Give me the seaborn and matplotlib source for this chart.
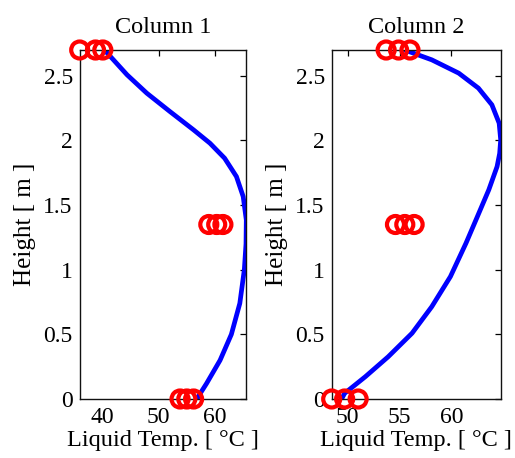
import numpy as np
import pandas as pd
import matplotlib
matplotlib.use('Agg')
import matplotlib.pyplot as plt
import seaborn as sns

# ==================== DATA ====================
# column 1: simulated profile (height [m] vs liquid temp [C])
col1_height = [0.0, 0.02, 0.12, 0.30, 0.50, 0.74, 1.0, 1.2, 1.385, 1.566, 1.721, 1.863, 1.979, 2.082, 2.224, 2.366, 2.508, 2.676, 2.70]
col1_temp = [56.8, 57.05, 58.5, 60.9, 62.9, 64.4, 65.2, 65.5, 65.55, 65.0, 63.8, 61.7, 59.1, 56.2, 52.0, 47.9, 44.4, 40.9, 40.3]
# column 1: measurements
col1_meas_height = [2.7, 2.7, 2.7, 1.35, 1.35, 1.35, 0.0, 0.0, 0.0]
col1_meas_temp = [36.0, 38.8, 40.1, 58.9, 60.3, 61.4, 53.8, 55.0, 56.2]

# column 2: simulated profile
col2_height = [0.0, 0.044, 0.173, 0.327, 0.509, 0.714, 0.947, 1.205, 1.411, 1.618, 1.798, 1.9, 2.005, 2.134, 2.276, 2.405, 2.521, 2.624, 2.688, 2.70]
col2_temp = [49.4, 49.7, 51.7, 53.9, 56.2, 58.1, 59.9, 61.4, 62.5, 63.6, 64.4, 64.65, 64.75, 64.6, 63.9, 62.6, 60.7, 58.1, 55.9, 55.5]
# column 2: measurements
col2_meas_height = [2.7, 2.7, 2.7, 1.35, 1.35, 1.35, 0.0, 0.0, 0.0]
col2_meas_temp = [53.7, 54.9, 56.0, 54.6, 55.5, 56.4, 48.45, 49.7, 51.0]

titles = ['Column 1', 'Column 2']
xticks = [[40, 50, 60], [50, 55, 60]]
yticks = [0, 0.5, 1, 1.5, 2, 2.5]
ytick_labels = ['0', '0.5', '1', '1.5', '2', '2.5']

# ==================== STYLE ====================
sns.set_style('white')
plt.rcParams['font.family'] = ['Liberation Serif', 'DejaVu Serif']
plt.rcParams['text.color'] = 'black'
plt.rcParams['axes.labelcolor'] = 'black'
plt.rcParams['xtick.color'] = 'black'
plt.rcParams['ytick.color'] = 'black'

fig = plt.figure(figsize=(5.15, 4.58), dpi=100)
W, H = 515, 458
ax_boxes = [
    [79.7 / W, (H - 399) / H, 166.6 / W, 349 / H],
    [331.7 / W, (H - 399) / H, 169.0 / W, 349 / H],
]

profiles = [
    (col1_temp, col1_height, col1_meas_temp, col1_meas_height),
    (col2_temp, col2_height, col2_meas_temp, col2_meas_height),
]

for i, (temp, height, mtemp, mheight) in enumerate(profiles):
    ax = fig.add_axes(ax_boxes[i])
    prof = pd.DataFrame({'temp': temp, 'height': height})
    meas = pd.DataFrame({'temp': mtemp, 'height': mheight})

    sns.lineplot(data=prof, x='temp', y='height', sort=False, estimator=None,
                 color='#0000ff', linewidth=3.4, ax=ax, zorder=2)
    ax.lines[-1].set_solid_joinstyle('round')
    ax.lines[-1].set_solid_capstyle('round')
    sns.scatterplot(data=meas, x='temp', y='height', marker='o', s=150,
                    facecolors='none', edgecolor='#ff0000', linewidth=3.0,
                    ax=ax, zorder=3, clip_on=False)

    lo = min(min(temp), min(mtemp))
    hi = max(max(temp), max(mtemp))
    ax.set_xlim(lo, hi)
    ax.set_ylim(0, 2.7)
    ax.set_xticks(xticks[i])
    ax.set_yticks(yticks)
    ax.set_yticklabels(ytick_labels)
    ax.tick_params(direction='in', length=4, width=0.9, top=True, right=True,
                   labelsize=17)
    ax.tick_params(axis='x', pad=6)
    ax.tick_params(axis='y', pad=5)
    for s in ax.spines.values():
        s.set_linewidth(1.0)
        s.set_color('#111111')
        s.set_visible(True)
    ax.set_title(titles[i], fontsize=17.5, pad=12)
    ax.set_xlabel('Liquid Temp. [ °C ]', fontsize=17.5, labelpad=1)
    ax.set_ylabel('Height [ m ]', fontsize=18, labelpad=5)

plt.savefig('out.png', dpi=100)
